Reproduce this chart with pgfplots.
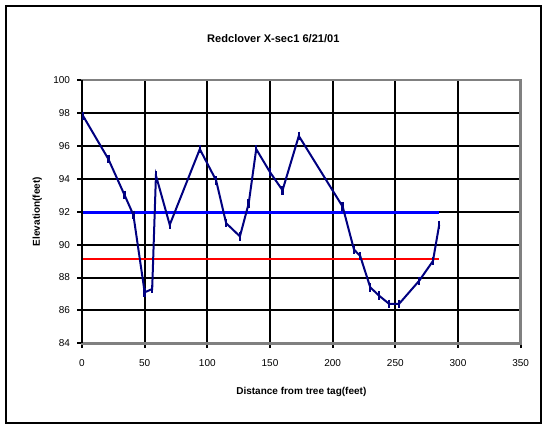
\documentclass[border=0pt]{standalone}
\usepackage{pgfplots}
\pgfplotsset{compat=1.18}
\usepackage{fontspec}
\setmainfont{Liberation Sans}
\definecolor{navyline}{RGB}{0,0,128}
\definecolor{boxgray}{RGB}{128,128,128}
\definecolor{refred}{RGB}{255,0,0}
\definecolor{refblue}{RGB}{0,0,255}
\begin{document}
\begin{tikzpicture}
\begin{axis}[
  scale only axis,
  width=329pt, height=197.5pt,
  xmin=0, xmax=350, ymin=84, ymax=100,
  xtick={0,50,...,350}, ytick={84,86,...,100},
  grid=major,
  grid style={black, line width=1.5pt},
  axis line style={boxgray, line width=1.8pt},
  tick align=outside,
  tick style={black, line width=1.5pt},
  major tick length=3.5pt,
  xtick pos=bottom, ytick pos=left,
  /pgf/number format/assume math mode=true,
  ticklabel style={font=\fontsize{7.5}{9}\selectfont},
  xticklabel style={yshift=-5pt},
  yticklabel style={xshift=-2pt},
  clip=false,
]
\addplot[refblue, line width=2.2pt] coordinates {(0,91.95) (285,91.95)};
\addplot[refred, line width=1.6pt] coordinates {(0,89.1) (285,89.1)};
\addplot[navyline, line width=1.5pt, mark=|, mark size=3.2pt,
  mark options={line width=1.8pt}] coordinates {
  (1,97.8) (21,95.2) (34,93.0) (41,91.8) (50,87.1) (56,87.3)
  (59,94.2) (70,91.2) (94,95.8) (107,93.9) (115,91.3) (126,90.5)
  (133,92.5) (139,95.8) (150,94.4) (160,93.3) (173,96.6) (208,92.3)
  (217,89.7) (222,89.3) (230,87.4) (237,86.9) (245,86.4) (253,86.4)
  (269,87.8) (280,89.0) (285,91.2)
};
\draw[black, line width=1.8pt] (axis cs:0,84) -- (axis cs:0,100);
\end{axis}
% chart frame and texts
\path (current axis.south west) ++(-61.5pt,-60.5pt) coordinate (bbl);
\path (current axis.north east) ++(17.5pt,60pt) coordinate (bbr);
\useasboundingbox (bbl) rectangle (bbr);
\draw[black, line width=1.5pt]
  ([shift={(-57.2pt,-59.8pt)}]current axis.south west) rectangle
  ([shift={(15.6pt,55.7pt)}]current axis.north east);
\node[font=\bfseries\fontsize{8.3}{10}\selectfont] at
  ([shift={(-21pt,31.3pt)}]current axis.north) {Redclover X-sec1 6/21/01};
\node[font=\bfseries\fontsize{7.5}{9}\selectfont] at
  ([yshift=-36.3pt]current axis.south) {Distance from tree tag(feet)};
\node[font=\bfseries\fontsize{7.5}{9}\selectfont, rotate=90] at
  ([xshift=-33.5pt]current axis.west) {Elevation(feet)};
\end{tikzpicture}
\end{document}
